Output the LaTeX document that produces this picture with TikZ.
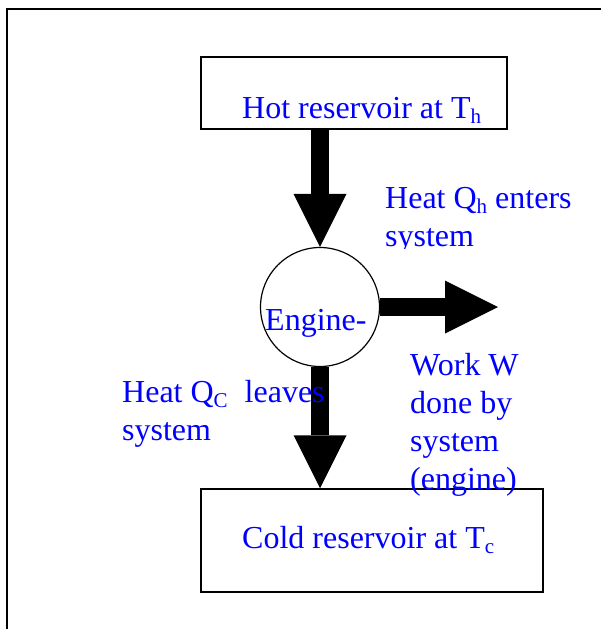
\documentclass[tikz,border=0pt]{standalone}
\usepackage{fontspec}
\setmainfont{Liberation Serif}
\usetikzlibrary{arrows.meta}
\newcommand{\lowidx}[1]{\raisebox{-5.5pt}{\fontsize{21}{21}\selectfont #1}}
\begin{document}
\begin{tikzpicture}[x=1pt,y=-1pt,
  box/.style={draw,line width=1.5pt,inner sep=0pt},
  lbl/.style={text=blue,inner sep=0pt,anchor=base west,align=left,font=\fontsize{32}{38}\selectfont},
  fat/.style={line width=18pt,-{Triangle[width=53pt,length=53pt,line width=0pt]}}]
\useasboundingbox (0,0) rectangle (601,629);
\clip (0,0) rectangle (601,629);
% outer frame
\draw[line width=1.8pt] (7,640) -- (7,9) -- (610,9);
% reservoirs and engine
\node[box,minimum width=306pt,minimum height=72pt] (hot) at (354,93) {};
\node[box,minimum width=342pt,minimum height=103pt] (cold) at (372,540.5) {};
\node[draw,circle,line width=1.2pt,minimum size=119pt,inner sep=0pt] (engine) at (320,307) {};
\coordinate (out) at (498,307);
% energy flows
\draw[fat] (engine.north |- hot.south) -- (engine.north);
\draw[fat] (engine.south) -- (engine.south |- cold.north);
\draw[fat] (engine.east) -- (out);
% labels (base = last line)
\node[lbl] (hotlbl) at (242,118) {Hot reservoir at T\lowidx{h}};
\node[lbl] (coldlbl) at (242,548) {Cold reservoir at T\lowidx{c}};
\node[lbl] (englbl) at (265,330) {Engine-};
\begin{scope}
\clip (380,150) rectangle (601,248);
\node[lbl] (qin) at (385,246) {Heat Q\lowidx{h} enters\\system};
\end{scope}
\node[lbl] (qout) at (122,440) {Heat Q\lowidx{C}\hspace{17pt}leaves\\system};
\node[lbl] (work) at (410,489) {Work W\\done by\\system\\(engine)};
\end{tikzpicture}
\end{document}
